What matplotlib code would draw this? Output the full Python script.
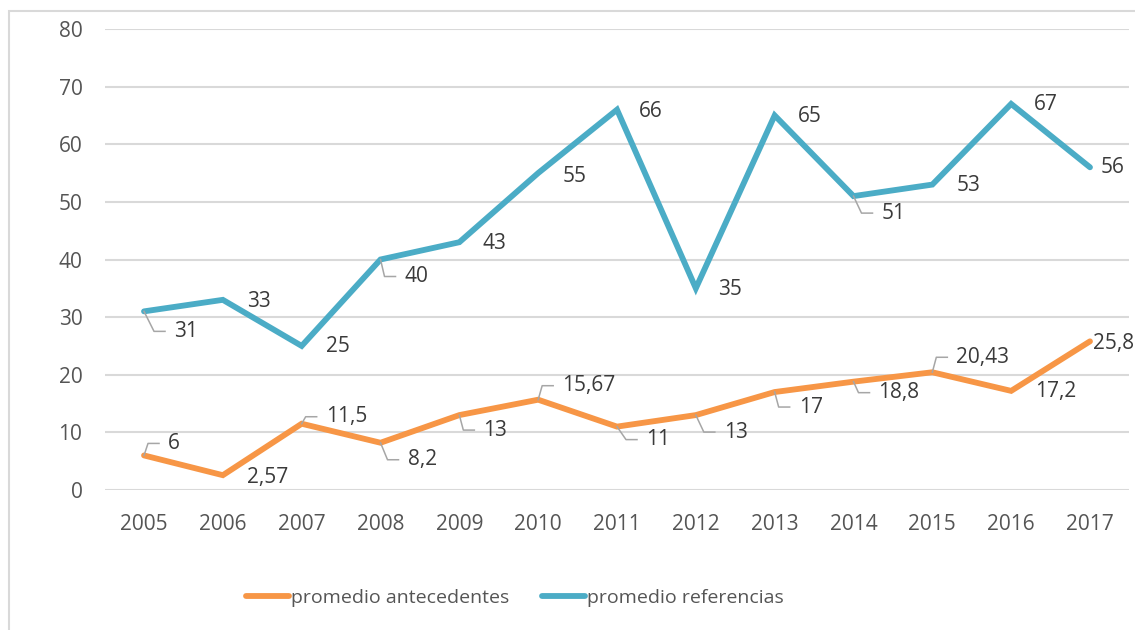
import matplotlib
matplotlib.use("Agg")
import matplotlib.pyplot as plt
from matplotlib.lines import Line2D
from matplotlib.patches import Rectangle
from matplotlib.transforms import IdentityTransform

# data
years = ["2005", "2006", "2007", "2008", "2009", "2010", "2011",
         "2012", "2013", "2014", "2015", "2016", "2017"]
antecedentes = [6, 2.57, 11.5, 8.2, 13, 15.67, 11, 13, 17, 18.8, 20.43, 17.2, 25.8]
referencias = [31, 33, 25, 40, 43, 55, 66, 35, 65, 51, 53, 67, 56]
y_ticks = [0, 10, 20, 30, 40, 50, 60, 70, 80]

# label placement in pixels (dx, dy down, leader line)
ant_offsets = [(24, -12, True), (24, 2, False), (24, -7, True), (27, 17, True),
               (24, 15, True), (24, -14, True), (29, 13, True), (28, 17, True),
               (24, 15, True), (25, 11, True), (24, -15, True), (24, 1, False),
               (3, 2, False)]
ref_offsets = [(30, 20, True), (24, 2, False), (24, 1, False), (24, 17, True),
               (23, 1, False), (24, 3, False), (22, 2, False), (22, 1, False),
               (23, 1, False), (28, 17, True), (24, 1, False), (23, 1, False),
               (11, 0, False)]

ORANGE = "#F79646"
BLUE = "#4BACC6"
GRID = "#D9D9D9"
LABEL = "#3A3A3A"
TICK = "#555555"
FONT = "Open Sans"
LW = 4.2

W, H, DPI = 1135, 630, 100
fig = plt.figure(figsize=(W / DPI, H / DPI), dpi=DPI)
ax = fig.add_axes([104.6 / W, 1 - 490 / H, (1129.4 - 104.6) / W, (490 - 29) / H])

# chart border
fig.add_artist(Rectangle((8.5 / W, 0 - 0.1), 1.2, 1 - 10.5 / H + 0.1,
                         transform=fig.transFigure, fill=False,
                         edgecolor=GRID, lw=1.5))

x = list(range(len(years)))
ax.plot(x, antecedentes, color=ORANGE, lw=LW, solid_capstyle="round",
        solid_joinstyle="miter", clip_on=False, zorder=3)
ax.plot(x, referencias, color=BLUE, lw=LW, solid_capstyle="round",
        solid_joinstyle="miter", clip_on=False, zorder=3)

ax.set_xlim(-0.5, len(years) - 0.5)
ax.set_ylim(0, 80)
ax.set_yticks(y_ticks)
ax.set_xticks(x)
ax.set_xticklabels(years)
ax.tick_params(length=0, labelsize=15, labelcolor=TICK)
ax.tick_params(axis="y", pad=16)
ax.tick_params(axis="x", pad=17)
for lbl in ax.get_xticklabels() + ax.get_yticklabels():
    lbl.set_fontfamily(FONT)
for s in ax.spines.values():
    s.set_visible(False)
ax.yaxis.grid(True, color=GRID, lw=1.5)
ax.set_axisbelow(True)


def fmt(v):
    return ("%g" % v).replace(".", ",")


def add_labels(values, offsets):
    for xi, v, (dx, dy, leader) in zip(x, values, offsets):
        px, py = ax.transData.transform((xi, v))
        ax.annotate(fmt(v), (xi, v), xytext=(dx, -dy), textcoords="offset pixels",
                    ha="left", va="center", fontsize=15, color=LABEL,
                    family=FONT, zorder=5, annotation_clip=False)
        if leader:
            xs = [px, px + dx - 20, px + dx - 9]
            ys = [py, py - dy, py - dy]
            fig.add_artist(Line2D(xs, ys, transform=IdentityTransform(),
                                  color="#A6A6A6", lw=1.1, zorder=4))


add_labels(antecedentes, ant_offsets)
add_labels(referencias, ref_offsets)

# legend
handles = [Line2D([], [], color=ORANGE, lw=LW, solid_capstyle="round"),
           Line2D([], [], color=BLUE, lw=LW, solid_capstyle="round")]
fig.legend(handles, ["promedio antecedentes", "promedio referencias"],
           loc="center", bbox_to_anchor=(515 / W, 1 - 598 / H),
           ncol=2, frameon=False, borderpad=0, borderaxespad=0,
           handlelength=2.2, handletextpad=0.12, columnspacing=1.7,
           prop={"family": FONT, "size": 14}, labelcolor=TICK)

fig.savefig("out.png", dpi=DPI)
